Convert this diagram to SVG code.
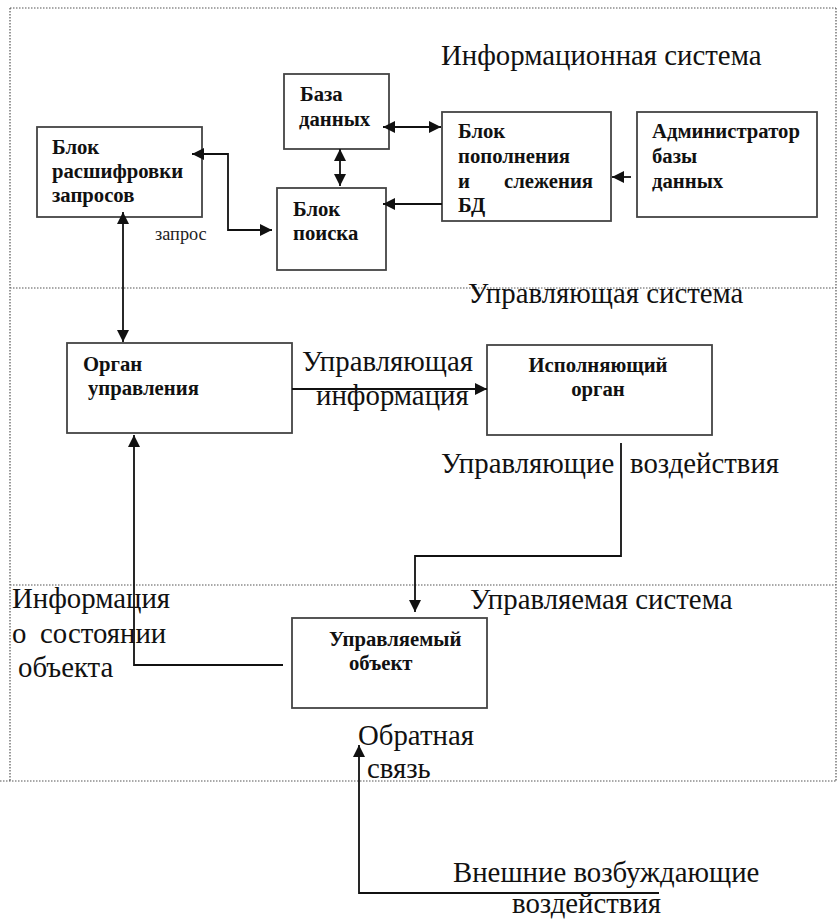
<svg xmlns="http://www.w3.org/2000/svg" width="839" height="920" viewBox="0 0 839 920">
<style>
.bg{fill:#fff}
.frame{fill:none;stroke:#555;stroke-width:1.2;stroke-dasharray:1.5 1.5}
.box{fill:#fff;stroke:#444;stroke-width:1.8}
.con{fill:none;stroke:#111;stroke-width:1.8}
.big{font-family:'Liberation Serif',serif;font-size:28.8px;fill:#111}
.bold{font-family:'Liberation Serif',serif;font-size:20.7px;font-weight:bold;fill:#111}
.small{font-family:'Liberation Serif',serif;font-size:18.3px;fill:#222}
</style>
<defs>
<marker id="ah" markerUnits="userSpaceOnUse" markerWidth="12" markerHeight="12" refX="12" refY="6" orient="auto-start-reverse" viewBox="0 0 12 12">
<path d="M0,0 L12,6 L0,12 z" fill="#111"/>
</marker>
</defs>
<rect class="bg" x="0" y="0" width="839" height="920"/>
<g id="frames">
<path class="frame" d="M10,8 H836 M10,8 V782 M836,8 V782 M10,288 H836 M10,585 H837 M0,781 H836"/>
</g>
<g id="labels">
<text class="big" x="441" y="65">Информационная система</text>
<text class="big" x="468" y="303">Управляющая система</text>
<text class="big" x="470" y="609">Управляемая система</text>
<text class="big" x="302" y="371">Управляющая</text>
<text class="big" x="316" y="405">информация</text>
<text class="big" x="441" y="473">Управляющие</text>
<text class="big" x="630" y="473">воздействия</text>
<text class="big" x="12" y="608">Информация</text>
<text class="big" x="12" y="643">о</text>
<text class="big" x="40" y="643">состоянии</text>
<text class="big" x="18" y="677">объекта</text>
<text class="big" x="358" y="745">Обратная</text>
<text class="big" x="367" y="778">связь</text>
<text class="big" x="453" y="882">Внешние возбуждающие</text>
<text class="big" x="512" y="913">воздействия</text>
<text class="small" x="155" y="240">запрос</text>
</g>
<g id="node-rasshifrovka">
<rect class="box" x="37" y="127" width="165" height="90"/>
<text class="bold" x="52" y="154">Блок</text>
<text class="bold" x="52" y="178">расшифровки</text>
<text class="bold" x="52" y="202">запросов</text>
</g>
<g id="node-baza">
<rect class="box" x="284" y="74" width="105" height="75"/>
<text class="bold" x="300" y="101">База</text>
<text class="bold" x="299" y="126">данных</text>
</g>
<g id="node-poisk">
<rect class="box" x="277" y="188" width="109" height="82"/>
<text class="bold" x="293" y="216">Блок</text>
<text class="bold" x="293" y="240">поиска</text>
</g>
<g id="node-popolnenie">
<rect class="box" x="442" y="112" width="169" height="109"/>
<text class="bold" x="458" y="138">Блок</text>
<text class="bold" x="458" y="163">пополнения</text>
<text class="bold" x="458" y="188">и</text>
<text class="bold" x="593" y="188" text-anchor="end">слежения</text>
<text class="bold" x="458" y="212">БД</text>
</g>
<g id="node-admin">
<rect class="box" x="637" y="112" width="180" height="105"/>
<text class="bold" x="652" y="138">Администратор</text>
<text class="bold" x="652" y="163">базы</text>
<text class="bold" x="652" y="188">данных</text>
</g>
<g id="node-organ">
<rect class="box" x="67" y="343" width="225" height="90"/>
<text class="bold" x="83" y="371">Орган</text>
<text class="bold" x="88" y="395">управления</text>
</g>
<g id="node-ispoln">
<rect class="box" x="487" y="345" width="225" height="90"/>
<text class="bold" x="598" y="372" text-anchor="middle">Исполняющий</text>
<text class="bold" x="598" y="396" text-anchor="middle">орган</text>
</g>
<g id="node-obekt">
<rect class="box" x="292" y="618" width="195" height="90"/>
<text class="bold" x="329" y="646">Управляемый</text>
<text class="bold" x="349" y="670">объект</text>
</g>
<g id="connectors">
<path class="con" d="M192,154 H228 V230 H272" marker-start="url(#ah)" marker-end="url(#ah)"/>
<path class="con" d="M340,149 V186" marker-start="url(#ah)" marker-end="url(#ah)"/>
<path class="con" d="M383,127 H441" marker-start="url(#ah)" marker-end="url(#ah)"/>
<path class="con" d="M442,204 H383" marker-end="url(#ah)"/>
<path class="con" d="M631,177 H612" marker-end="url(#ah)"/>
<path class="con" d="M123,212 V342" marker-start="url(#ah)" marker-end="url(#ah)"/>
<path class="con" d="M292,389 H487" marker-end="url(#ah)"/>
<path class="con" d="M621,443 V556 H415 V612" marker-end="url(#ah)"/>
<path class="con" d="M283,665 H134 V435" marker-end="url(#ah)"/>
<path class="con" d="M659,893 H359 V745" marker-end="url(#ah)"/>
</g>
</svg>
